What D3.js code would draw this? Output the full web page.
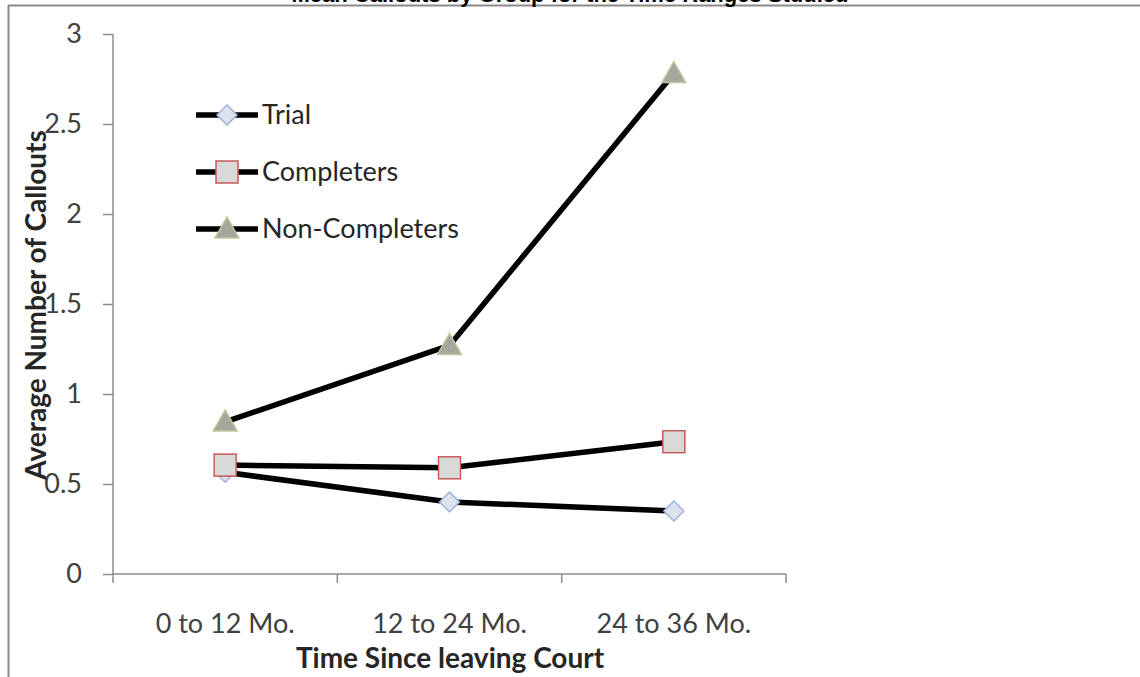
<!DOCTYPE html>
<html>
<head>
<meta charset="utf-8">
<script src="https://cdn.jsdelivr.net/npm/d3@7"></script>
<style>
  body { margin: 0; background: #fff; }
  svg { display: block; }
</style>
</head>
<body>
<script>
// chart data
var periods = ['0 to 12 Mo.', '12 to 24 Mo.', '24 to 36 Mo.'];
var trial = [0.565, 0.40, 0.35];
var completers = [0.605, 0.59, 0.735];
var nonCompleters = [0.845, 1.27, 2.78];
var yTicks = [0, 0.5, 1, 1.5, 2, 2.5, 3];

var seriesNames = ['Trial', 'Completers', 'Non-Completers'];
var seriesValues = [trial, completers, nonCompleters];

var width = 1140, height = 677;
var margin = {left: 113, right: 354, top: 34, bottom: 103};
var font = 'Lato, "Open Sans", sans-serif';

var svg = d3.select('body').append('svg')
    .attr('width', width)
    .attr('height', height);

// frame
svg.append('line').attr('x1', 8).attr('x2', width).attr('y1', 5.5).attr('y2', 5.5)
    .attr('stroke', '#8a8a8a').attr('stroke-width', 2);
svg.append('line').attr('x1', 8.5).attr('x2', 8.5).attr('y1', 5).attr('y2', height)
    .attr('stroke', '#8a8a8a').attr('stroke-width', 2);

// title, cut off at the top like the original
svg.append('text')
    .attr('x', 570).attr('y', 2)
    .attr('text-anchor', 'middle')
    .attr('font-family', 'Liberation Sans, Arial, sans-serif')
    .attr('font-weight', 'bold')
    .attr('font-size', 22)
    .text('Mean Callouts by Group for the Time Ranges Studied');

var x = d3.scaleBand()
    .domain(periods)
    .range([margin.left, width - margin.right]);

var y = d3.scaleLinear()
    .domain([0, 3])
    .range([height - margin.bottom, margin.top]);

// y axis
var yAxis = svg.append('g')
    .attr('transform', `translate(${margin.left},0)`)
    .call(d3.axisLeft(y).tickValues(yTicks).tickSize(10).tickPadding(21)
        .tickFormat((d) => d));
yAxis.selectAll('path, line').attr('stroke', '#8c8c8c').attr('stroke-width', 1.5);
yAxis.select('.domain').attr('d', `M0,${y(3)}V${y(0)}`);
yAxis.selectAll('text')
    .attr('font-family', font).attr('font-size', 27).attr('fill', '#404040');

// x axis
var xAxis = svg.append('g')
    .attr('transform', `translate(0,${y(0)})`)
    .call(d3.axisBottom(x).tickSize(0).tickPadding(40));
xAxis.select('.domain')
    .attr('d', `M${margin.left},0H${width - margin.right}`)
    .attr('stroke', '#8c8c8c').attr('stroke-width', 1.5);
xAxis.selectAll('text')
    .attr('font-family', font).attr('font-size', 27).attr('fill', '#404040');
xAxis.selectAll('.sep')
    .data(periods.concat(['end']))
    .enter()
        .append('line')
        .attr('class', 'sep')
        .attr('x1', (d, i) => margin.left + i * x.bandwidth())
        .attr('x2', (d, i) => margin.left + i * x.bandwidth())
        .attr('y1', 0).attr('y2', 9)
        .attr('stroke', '#8c8c8c').attr('stroke-width', 1.5);

// axis titles
svg.append('text')
    .attr('x', 450).attr('y', 668)
    .attr('text-anchor', 'middle')
    .attr('font-family', font).attr('font-weight', 'bold').attr('font-size', 28)
    .attr('fill', '#262626')
    .text('Time Since leaving Court');

svg.append('text')
    .attr('transform', 'translate(46,305) rotate(-90)')
    .attr('text-anchor', 'middle')
    .attr('font-family', font).attr('font-weight', 'bold').attr('font-size', 28)
    .attr('fill', '#262626')
    .text('Average Number of Callouts');

// markers
function drawMarker(g, k) {
    if (k === 0) {
        g.append('path')
            .attr('d', 'M0,-10L10,0L0,10L-10,0Z')
            .attr('fill', '#dde3ee').attr('stroke', '#9fb2d6').attr('stroke-width', 1.5);
    } else if (k === 1) {
        g.append('rect')
            .attr('x', -11).attr('y', -11).attr('width', 22).attr('height', 22)
            .attr('fill', '#d9d9d9').attr('stroke', '#c9595a').attr('stroke-width', 1.5);
    } else {
        g.append('path')
            .attr('d', 'M0,-12L12,9L-12,9Z')
            .attr('fill', '#a6a69c').attr('stroke', '#c2c89a').attr('stroke-width', 1.5);
    }
}

var line = d3.line()
    .x((d, i) => x(periods[i]) + x.bandwidth() / 2)
    .y((d) => y(d));

seriesValues.forEach((vals, k) => {
    svg.append('path')
        .attr('d', line(vals))
        .attr('fill', 'none')
        .attr('stroke', '#000')
        .attr('stroke-width', 5.5);
});

seriesValues.forEach((vals, k) => {
    vals.forEach((v, i) => {
        var g = svg.append('g')
            .attr('transform', `translate(${x(periods[i]) + x.bandwidth() / 2},${y(v)})`);
        drawMarker(g, k);
    });
});

// legend
var legend = svg.append('g').attr('transform', 'translate(196,115)');
seriesNames.forEach((name, k) => {
    var row = legend.append('g').attr('transform', `translate(0,${k * 57})`);
    row.append('line')
        .attr('x1', 0).attr('x2', 62).attr('y1', 0).attr('y2', 0)
        .attr('stroke', '#000').attr('stroke-width', 5.5);
    drawMarker(row.append('g').attr('transform', 'translate(31,0)'), k);
    row.append('text')
        .attr('x', 66).attr('y', 9)
        .attr('font-family', font).attr('font-size', 27).attr('fill', '#262626')
        .text(name);
});
</script>
</body>
</html>
